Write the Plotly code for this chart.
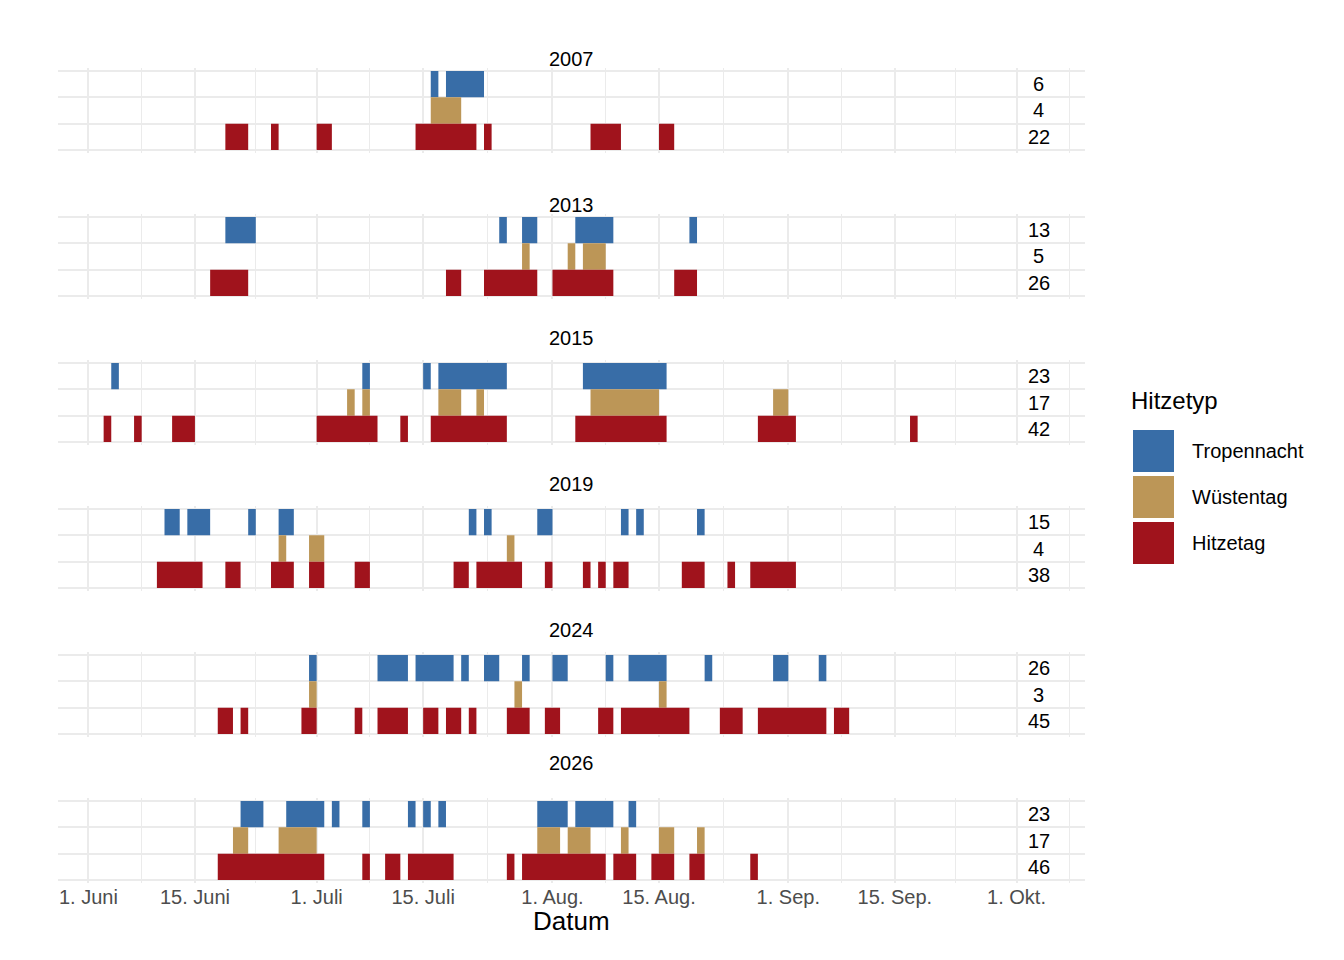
import plotly.graph_objects as go

W, H = 1344, 960
years = ["2007", "2013", "2015", "2019", "2024", "2026"]
types = ["Tropennacht", "Wüstentag", "Hitzetag"]
colors = {"Tropennacht": "#386da7", "Wüstentag": "#bc9657", "Hitzetag": "#a0131c"}

# day index: 0 = 1. Juni
tropennacht = {
    "2007": [45, 47, 48, 49, 50, 51],
    "2013": [18, 19, 20, 21, 54, 57, 58, 64, 65, 66, 67, 68, 79],
    "2015": [3, 36, 44, 46, 47, 48, 49, 50, 51, 52, 53, 54,
             65, 66, 67, 68, 69, 70, 71, 72, 73, 74, 75],
    "2019": [10, 11, 13, 14, 15, 21, 25, 26, 50, 52, 59, 60, 70, 72, 80],
    "2024": [29, 38, 39, 40, 41, 43, 44, 45, 46, 47, 49, 52, 53, 57, 61, 62,
             68, 71, 72, 73, 74, 75, 81, 90, 91, 96],
    "2026": [20, 21, 22, 26, 27, 28, 29, 30, 32, 36, 42, 44, 46, 59, 60, 61, 62,
             64, 65, 66, 67, 68, 71],
}
wuestentag = {
    "2007": [45, 46, 47, 48],
    "2013": [57, 63, 65, 66, 67],
    "2015": [34, 36, 46, 47, 48, 51, 66, 67, 68, 69, 70, 71, 72, 73, 74, 90, 91],
    "2019": [25, 29, 30, 55],
    "2024": [29, 56, 75],
    "2026": [19, 20, 25, 26, 27, 28, 29, 59, 60, 61, 63, 64, 65, 70, 75, 76, 80],
}
hitzetag = {
    "2007": [18, 19, 20, 24, 30, 31, 43, 44, 45, 46, 47, 48, 49, 50, 52,
             66, 67, 68, 69, 75, 76],
    "2013": [16, 17, 18, 19, 20, 47, 48, 52, 53, 54, 55, 56, 57, 58,
             61, 62, 63, 64, 65, 66, 67, 68, 77, 78, 79],
    "2015": [2, 6, 11, 12, 13, 30, 31, 32, 33, 34, 35, 36, 37, 41,
             45, 46, 47, 48, 49, 50, 51, 52, 53, 54,
             64, 65, 66, 67, 68, 69, 70, 71, 72, 73, 74, 75, 88, 89, 90, 91, 92, 108],
    "2019": [9, 10, 11, 12, 13, 14, 18, 19, 24, 25, 26, 29, 30, 35, 36, 48, 49,
             51, 52, 53, 54, 55, 56, 60, 65, 67, 69, 70, 78, 79, 80, 84,
             87, 88, 89, 90, 91, 92],
    "2024": [17, 18, 20, 28, 29, 35, 38, 39, 40, 41, 44, 45, 47, 48, 50, 55, 56, 57,
             60, 61, 67, 68, 70, 71, 72, 73, 74, 75, 76, 77, 78, 83, 84, 85,
             88, 89, 90, 91, 92, 93, 94, 95, 96, 98, 99],
    "2026": [17, 18, 19, 20, 21, 22, 23, 24, 25, 26, 27, 28, 29, 30, 36, 39, 40,
             42, 43, 44, 45, 46, 47, 55, 57, 58, 59, 60, 61, 62, 63, 64, 65, 66, 67,
             69, 70, 71, 74, 75, 76, 79, 80, 87],
}
counts = {
    "2007": [6, 4, 22], "2013": [13, 5, 26], "2015": [23, 17, 42],
    "2019": [15, 4, 38], "2024": [26, 3, 45], "2026": [23, 17, 46],
}
tick_vals = [0, 14, 30, 44, 61, 75, 92, 106, 122]
tick_text = ["1. Juni", "15. Juni", "1. Juli", "15. Juli", "1. Aug.", "15. Aug.",
             "1. Sep.", "15. Sep.", "1. Okt."]
minor_vals = [7, 22, 37, 52.5, 68, 83.5, 99, 114, 129]

series = {"Tropennacht": tropennacht, "Wüstentag": wuestentag, "Hitzetag": hitzetag}
row_y = {"Tropennacht": 2.5, "Wüstentag": 1.5, "Hitzetag": 0.5}


def runs(days):
    days = sorted(days)
    out = []
    for d in days:
        if out and d == out[-1][0] + out[-1][1]:
            out[-1][1] += 1
        else:
            out.append([d, 1])
    return out


FONT = "Liberation Sans, Arial, sans-serif"
fig = go.Figure()
layout = dict(width=W, height=H, margin=dict(l=50, r=267, t=0, b=0, autoexpand=False),
              plot_bgcolor="white", paper_bgcolor="white", showlegend=False,
              font=dict(family=FONT, color="black"), barmode="overlay")
annotations, shapes = [], []


def py(p):
    return 1 - p / H


def px(p):
    return (p - 50) / (W - 50 - 267)


for i, yr in enumerate(years):
    sfx = "" if i == 0 else str(i + 1)
    top = 60.4 + 146 * i
    bot = 144.6 + 146 * i
    for t in types:
        r = runs(series[t][yr])
        fig.add_trace(go.Bar(
            x=[n for _, n in r], base=[s for s, _ in r], y=[row_y[t]] * len(r), width=1,
            orientation="h", marker=dict(color=colors[t], line=dict(width=0)),
            xaxis="x" + sfx, yaxis="y" + sfx, name=t, hoverinfo="skip"))
    layout["xaxis" + sfx] = dict(
        domain=[0, 1], range=[-4, 131], anchor="y" + sfx, automargin=False,
        tickmode="array", tickvals=tick_vals, ticktext=tick_text,
        showticklabels=(i == len(years) - 1), ticks="",
        tickfont=dict(size=20, color="#4d4d4d"),
        showgrid=True, gridcolor="#ebebeb", gridwidth=2, zeroline=False,
        minor=dict(tickmode="array", tickvals=minor_vals, showgrid=True,
                   gridcolor="#ebebeb", gridwidth=1, ticks=""))
    layout["yaxis" + sfx] = dict(
        domain=[py(bot), py(top)], range=[-0.1, 3.1], anchor="x" + sfx, automargin=False,
        tickmode="array", tickvals=[0, 1, 2, 3], showticklabels=False,
        showgrid=True, gridcolor="#ebebeb", gridwidth=2, zeroline=False)
    annotations.append(dict(text=yr, x=0.5, xref="paper", y=py(38 + 146 * i),
                            yref="paper", showarrow=False, font=dict(size=20)))
    for t, c in zip(types, counts[yr]):
        annotations.append(dict(text=str(c), x=124.9, xref="x" + sfx, y=row_y[t],
                                yref="y" + sfx, showarrow=False, font=dict(size=20)))

annotations.append(dict(text="Datum", x=0.5, xref="paper", y=py(930), yref="paper",
                        showarrow=False, font=dict(size=26)))
# legend
annotations.append(dict(text="Hitzetyp", x=px(1121), xref="paper", y=py(392), yref="paper",
                        showarrow=False, xanchor="left", font=dict(size=24)))
for k, t in enumerate(types):
    yc = 443 + 46 * k
    shapes.append(dict(type="rect", xref="paper", yref="paper",
                       x0=px(1125), x1=px(1166), y0=py(yc + 21), y1=py(yc - 21),
                       fillcolor=colors[t], line=dict(width=0)))
    annotations.append(dict(text=t, x=px(1182), xref="paper", y=py(yc),
                            yref="paper", showarrow=False, xanchor="left",
                            font=dict(size=20)))
layout["annotations"] = annotations
layout["shapes"] = shapes
fig.update_layout(**layout)
fig.write_html("out.html")
